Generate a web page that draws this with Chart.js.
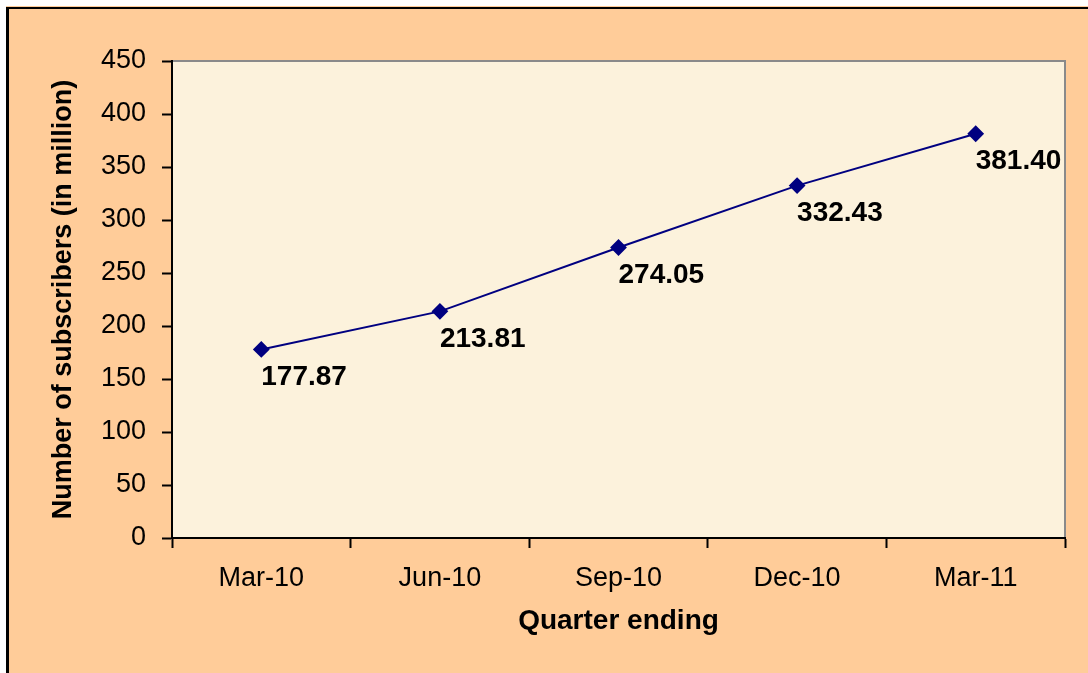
<!DOCTYPE html>
<html>
<head>
<meta charset="utf-8">
<script src="https://cdn.jsdelivr.net/npm/chart.js@4/dist/chart.umd.min.js"></script>
<style>
  html, body { margin: 0; padding: 0; background: #fff; }
  #wrap { width: 1088px; height: 673px; }
</style>
</head>
<body>
<div id="wrap"><canvas id="subsChart" width="1088" height="673"></canvas></div>
<script>
const quarters = ['Mar-10', 'Jun-10', 'Sep-10', 'Dec-10', 'Mar-11'];
const subscribers = [177.87, 213.81, 274.05, 332.43, 381.40];
const yTicks = [0, 50, 100, 150, 200, 250, 300, 350, 400, 450];

const ctx = document.getElementById('subsChart').getContext('2d');

// background frame + plot area fill, plus value labels
const frame = {
    id: 'frame',
    beforeDraw(chart) {
        const c = chart.ctx;
        const a = chart.chartArea;
        c.save();
        c.fillStyle = '#ffffff';
        c.fillRect(0, 0, chart.width, chart.height);
        c.fillStyle = '#FFCC99';
        c.fillRect(6, 6, chart.width, chart.height);
        c.fillStyle = '#000000';
        c.fillRect(6, 7, chart.width, 2);
        c.fillRect(6, 7, 3, chart.height);
        c.fillStyle = '#FCF2DC';
        c.fillRect(a.left, a.top, a.right - a.left, a.bottom - a.top);
        c.strokeStyle = '#8a8a8a';
        c.lineWidth = 2;
        c.beginPath();
        c.moveTo(a.left, a.top);
        c.lineTo(a.right, a.top);
        c.lineTo(a.right, a.bottom);
        c.stroke();
        c.restore();
    },
    afterDatasetsDraw(chart) {
        const c = chart.ctx;
        const meta = chart.getDatasetMeta(0);
        c.save();
        c.font = 'bold 28px "Liberation Sans", Arial, sans-serif';
        c.fillStyle = '#000000';
        c.textAlign = 'left';
        c.textBaseline = 'middle';
        meta.data.forEach((pt, i) => {
            c.fillText(subscribers[i].toFixed(2), pt.x, pt.y + 28);
        });
        c.restore();
    }
};

new Chart(ctx, {
    type: 'line',
    data: {
        labels: quarters,
        datasets: [{
            data: subscribers,
            borderColor: '#000080',
            backgroundColor: '#000080',
            borderWidth: 2,
            pointStyle: 'rectRot',
            pointRadius: 7,
            pointHoverRadius: 7,
            tension: 0
        }]
    },
    options: {
        responsive: false,
        animation: false,
        events: [],
        layout: {
            padding: { left: 40, top: 61, right: 23, bottom: 0 }
        },
        plugins: {
            legend: { display: false },
            tooltip: { enabled: false }
        },
        scales: {
            x: {
                offset: true,
                grid: {
                    offset: true,
                    drawOnChartArea: false,
                    drawTicks: true,
                    tickLength: 10,
                    tickColor: '#000000',
                    tickWidth: 2
                },
                border: { color: '#000000', width: 2 },
                ticks: {
                    color: '#000000',
                    padding: 14,
                    maxRotation: 0,
                    font: { family: '"Liberation Sans", Arial, sans-serif', size: 27 }
                },
                title: {
                    display: true,
                    text: 'Quarter ending',
                    color: '#000000',
                    padding: { top: 0, bottom: 35 },
                    font: { family: '"Liberation Sans", Arial, sans-serif', size: 28, weight: 'bold' }
                },
                afterFit(scale) { scale.height = 135; }
            },
            y: {
                min: 0,
                max: 450,
                afterBuildTicks(scale) {
                    scale.ticks = yTicks.map(v => ({ value: v }));
                },
                grid: {
                    drawOnChartArea: false,
                    drawTicks: true,
                    tickLength: 10,
                    tickColor: '#000000',
                    tickWidth: 2
                },
                border: { color: '#000000', width: 2 },
                ticks: {
                    color: '#000000',
                    padding: 16,
                    font: { family: '"Liberation Sans", Arial, sans-serif', size: 27 }
                },
                title: {
                    display: true,
                    text: 'Number of subscribers (in million)',
                    color: '#000000',
                    padding: { top: 7, bottom: 0 },
                    font: { family: '"Liberation Sans", Arial, sans-serif', size: 27, weight: 'bold' }
                },
                afterFit(scale) { scale.width = 132; }
            }
        }
    },
    plugins: [frame]
});
</script>
</body>
</html>
